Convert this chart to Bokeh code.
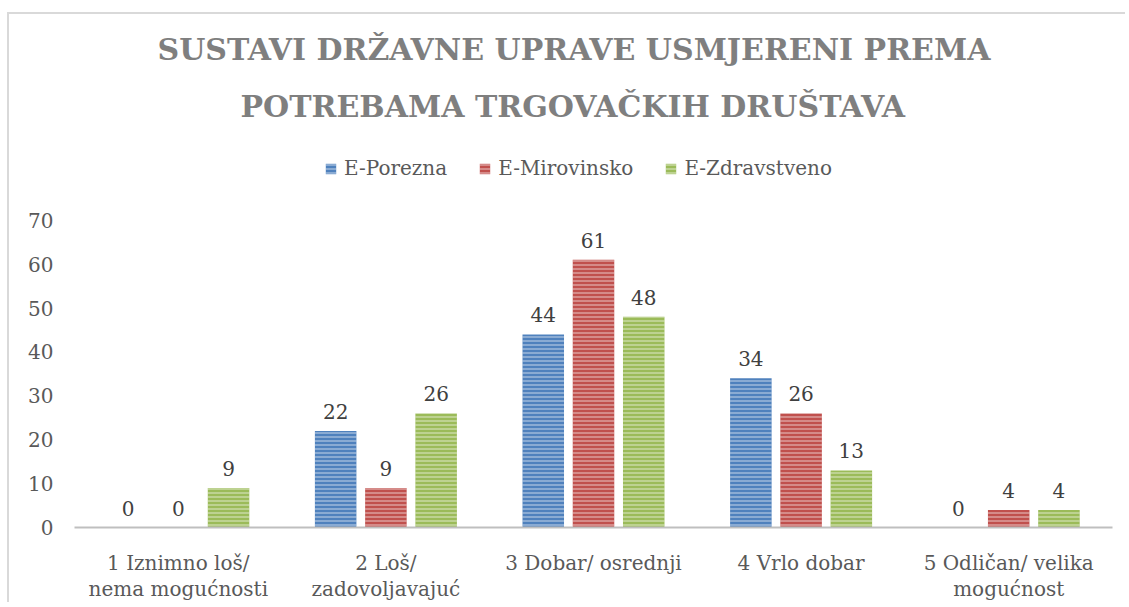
from bokeh.plotting import figure
from bokeh.models import (FactorRange, Range1d, ColumnDataSource, FixedTicker,
                          Legend, LegendItem, Title)
from bokeh.transform import dodge
from bokeh.core.properties import value
from bokeh.embed import file_html
from bokeh.resources import INLINE

# ---- data ----
categories = ["1 Iznimno loš/\nnema mogućnosti", "2 Loš/\nzadovoljavajuć",
              "3 Dobar/ osrednji", "4 Vrlo dobar", "5 Odličan/ velika\nmogućnost"]
series_names = ["E-Porezna", "E-Mirovinsko", "E-Zdravstveno"]
porezna = [0, 22, 44, 34, 0]
mirovinsko = [0, 9, 61, 26, 4]
zdravstveno = [9, 26, 48, 13, 4]
y_ticks = [0, 10, 20, 30, 40, 50, 60, 70]
title_line1 = "SUSTAVI DRŽAVNE UPRAVE USMJERENI PREMA"
title_line2 = "POTREBAMA TRGOVAČKIH DRUŠTAVA"

colors = ["#4F81BD", "#C0504D", "#9BBB59"]
offsets = [-0.242, 0.0, 0.242]
FONT = "DejaVu Serif"
FS = "20px"

# layout (pixels): axis 0..70 spans 308 px; the frame also holds the legend band above it
AXIS_PX = 308
FRAME_PX = 388
y_top = 70 * FRAME_PX / AXIS_PX

source = ColumnDataSource(dict(
    cat=categories,
    s0=porezna, s1=mirovinsko, s2=zdravstveno,
    l0=[str(v) for v in porezna], l1=[str(v) for v in mirovinsko], l2=[str(v) for v in zdravstveno],
))

p = figure(x_range=FactorRange(*categories, range_padding=0), y_range=Range1d(0, y_top),
           width=1118, height=590, output_backend="svg", toolbar_location=None, title=None,
           min_border_left=65, min_border_right=15, min_border_top=126, min_border_bottom=76)
p.styles = {"border-top": "2px solid #d9d9d9", "border-left": "2px solid #d9d9d9",
            "margin-left": "7px", "margin-top": "12px"}
p.xgrid.visible = False
p.ygrid.visible = False
p.outline_line_color = None

renderers = []
for i, (name, col) in enumerate(zip(series_names, colors)):
    r = p.vbar(x=dodge("cat", offsets[i], range=p.x_range), top="s%d" % i, width=0.2,
               source=source, fill_color=col, line_color=None,
               hatch_pattern="horizontal_line", hatch_color="white", hatch_alpha=0.45,
               hatch_weight=1.5, hatch_scale=4)
    renderers.append(r)
    p.text(x=dodge("cat", offsets[i], range=p.x_range), y="s%d" % i, text="l%d" % i,
           source=source, text_align="center", text_baseline="bottom", y_offset=-12,
           text_font=value(FONT), text_font_size=FS, text_color="#404040")

# axes
p.yaxis.ticker = FixedTicker(ticks=y_ticks)
p.yaxis.axis_line_color = None
p.yaxis.major_tick_line_color = None
p.yaxis.minor_tick_line_color = None
p.yaxis.major_label_standoff = 15
p.yaxis.major_label_text_font = FONT
p.yaxis.major_label_text_font_size = FS
p.yaxis.major_label_text_color = "#595959"

p.xaxis.axis_line_color = "#bfbfbf"
p.xaxis.axis_line_width = 2
p.xaxis.major_tick_line_color = None
p.xaxis.minor_tick_line_color = None
p.xaxis.major_label_standoff = 17
p.xaxis.major_label_text_font = FONT
p.xaxis.major_label_text_font_size = FS
p.xaxis.major_label_text_color = "#595959"
p.xaxis.major_label_text_line_height = 1.12

# legend, placed in the band above the 70 mark
legend = Legend(items=[LegendItem(label=n, renderers=[r]) for n, r in zip(series_names, renderers)],
                orientation="horizontal", location=(250, 347), glyph_width=13, glyph_height=13,
                label_standoff=7, spacing=31, padding=0, margin=0, border_line_color=None,
                background_fill_alpha=0, label_text_font=FONT, label_text_font_size=FS,
                label_text_color="#595959", label_height=20)
p.add_layout(legend, "center")

# titles
t2 = Title(text=title_line2, align="left", offset=166, text_font=FONT, text_font_size="30px",
           text_font_style="bold", text_color="#7f7f7f", standoff=34)
p.add_layout(t2, "above")
t1 = Title(text=title_line1, align="left", offset=83, text_font=FONT, text_font_size="30px",
           text_font_style="bold", text_color="#7f7f7f", standoff=6)
p.add_layout(t1, "above")

open("out.html", "w").write(file_html(p, INLINE))
